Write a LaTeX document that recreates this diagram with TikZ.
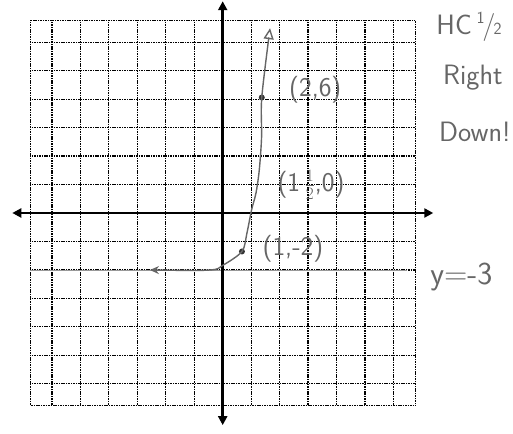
\documentclass[tikz,border=0pt]{standalone}
\usetikzlibrary{arrows.meta}
\newcommand{\hhalf}{\raisebox{.4em}{\fontsize{17}{17}\selectfont 1}\kern-.08em/\kern-.06em{\fontsize{17}{17}\selectfont 2}}
\begin{document}
\begin{tikzpicture}[x=19.25pt,y=19.25pt,
 gridline/.style={black, line width=1.2pt, dash pattern=on 1.1pt off 0.6pt},
 axisline/.style={line width=2.6pt, {Triangle[length=9pt,width=9pt]}-{Triangle[length=9pt,width=9pt]}},
 curveline/.style={black!60, line width=1.4pt},
 asym/.style={black!40, line width=1.1pt},
 hand/.style={black!60, font=\sffamily\fontsize{27}{30}\selectfont, inner sep=0pt},
 dotnode/.style={circle, fill=black!80, inner sep=0pt, minimum size=6pt}]
\useasboundingbox (-11.569,-11.481) rectangle (15.081,11.065);
% grid
\draw[gridline] (-10,-10) grid (10,10);
\draw[gridline] (-10,-10) rectangle (10,10);
% asymptote
\coordinate (al) at (-10,-3);
\coordinate (ar) at (9.6,-3);
\draw[asym] (al) -- (ar);
% axes
\coordinate (xl) at (-10.93,0);
\coordinate (xr) at (10.94,0);
\coordinate (yb) at (0,-11.02);
\coordinate (yt) at (0,11.0);
\draw[axisline] (xl) -- (xr);
\draw[axisline] (yb) -- (yt);
% points
\node[dotnode] (p1) at (1,-2) {};
\node[dotnode] (p2) at (2.03,6) {};
% curve
\draw[curveline, {Stealth[length=9pt,width=8pt]}-{Triangle[open,length=11pt,width=10pt]}]
  plot[smooth, tension=0.5] coordinates {(-3.78,-2.96) (-0.66,-2.96) (0,-2.72) (1,-2) (1.26,-1.04) (1.5,0.16) (1.73,1.04) (1.9,2.23) (2.02,3.96) (2.03,6) (2.46,9.6)};
% labels
\node[hand] (l26) at (4.81,6.39) {(2,6)};
\node[hand] (l150) at (4.59,1.45) {(1\,$\frac{1}{2}$,0)};
\node[hand] (l12) at (3.65,-1.87) {(1,-2)};
\node[hand, font=\sffamily\fontsize{28}{32}\selectfont] (lhc) at (12.8,9.66) {HC\,\hhalf};
\node[hand, font=\sffamily\fontsize{28}{32}\selectfont] (lright) at (13.0,7.01) {Right};
\node[hand, font=\sffamily\fontsize{28}{32}\selectfont] (ldown) at (13.1,4.21) {Down!};
\node[hand, font=\sffamily\fontsize{32}{36}\selectfont] (ly) at (12.4,-3.32) {y=-3};
\end{tikzpicture}
\end{document}
